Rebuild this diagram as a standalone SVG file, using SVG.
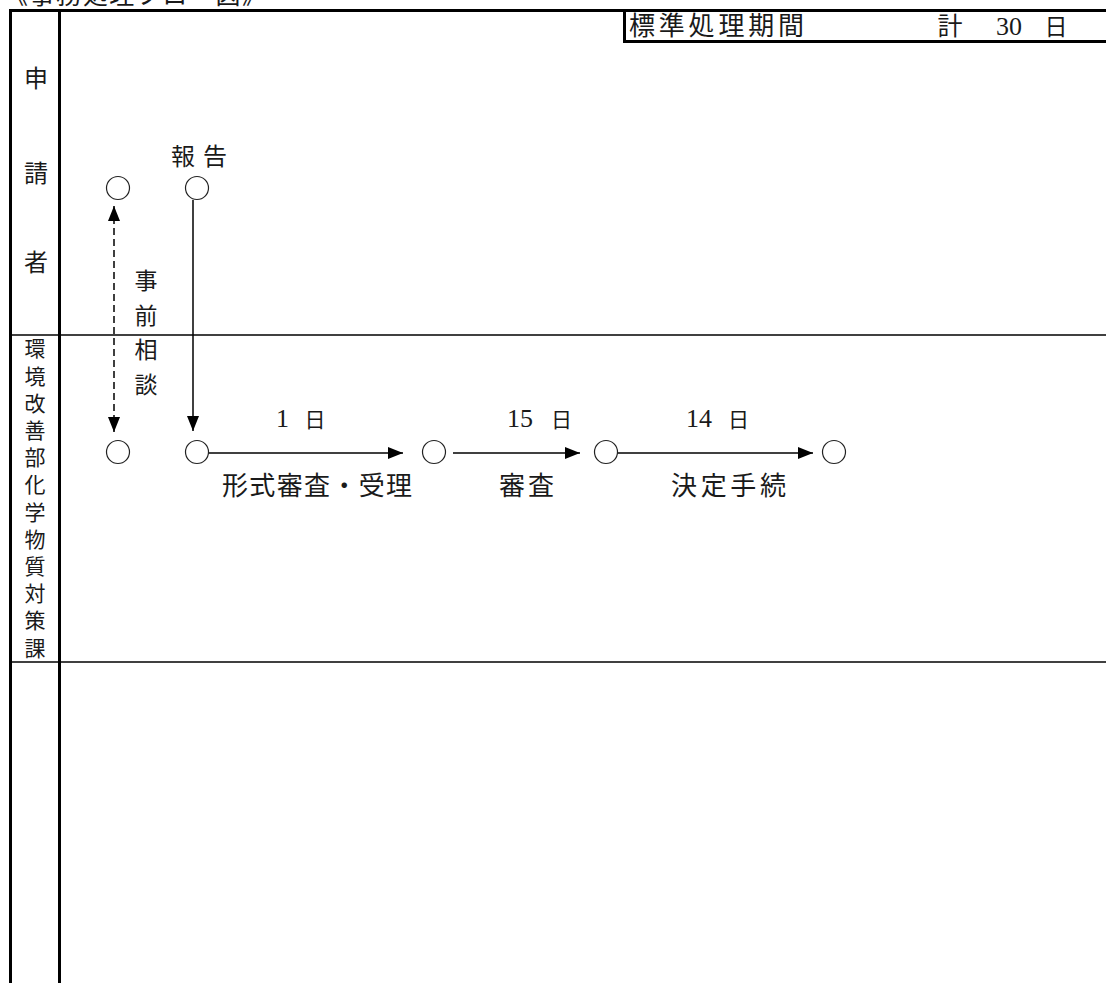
<svg xmlns="http://www.w3.org/2000/svg" width="1106" height="983" viewBox="0 0 1106 983">
<style>
text{font-family:"Liberation Serif","Noto Sans CJK JP",serif;fill:#1a1a1a}
.j{font-family:"Noto Sans CJK JP",sans-serif}
.v{writing-mode:vertical-rl;font-family:"Noto Sans CJK JP",sans-serif}
.thick{stroke:#000;stroke-width:3;fill:none}
.thin{stroke:#000;stroke-width:1.3;fill:none}
.node{fill:#fff;stroke:#222;stroke-width:1.2}
.con{stroke:#000;stroke-width:1.5;fill:none}
.dash{stroke-dasharray:7 4}
</style>
<defs>
<marker id="ah" viewBox="0 0 15 12" refX="15" refY="6" markerWidth="15" markerHeight="12" markerUnits="userSpaceOnUse" orient="auto">
<path d="M0,0 L15,6 L0,12 Z" fill="#000"/>
</marker>
<marker id="ahs" viewBox="0 0 15 12" refX="15" refY="6" markerWidth="15" markerHeight="12" markerUnits="userSpaceOnUse" orient="auto-start-reverse">
<path d="M0,0 L15,6 L0,12 Z" fill="#000"/>
</marker>
</defs>
<rect width="1106" height="983" fill="#fff"/>
<text class="j" x="3" y="4" font-size="25" textLength="264" lengthAdjust="spacing">《事務処理フロー図》</text>
<g id="frame">
<line class="thick" x1="10.5" y1="10.5" x2="1106" y2="10.5"/>
<line class="thick" x1="10.5" y1="9" x2="10.5" y2="983"/>
<line class="thick" x1="59.5" y1="9" x2="59.5" y2="983"/>
<line class="thin" x1="10" y1="335" x2="1106" y2="335"/>
<line class="thin" x1="10" y1="662" x2="1106" y2="662"/>
</g>
<g id="header">
<line class="thick" x1="624.5" y1="10" x2="624.5" y2="43"/>
<line class="thick" x1="623" y1="41.5" x2="1106" y2="41.5"/>
<text class="j" x="629" y="35" font-size="26" textLength="175" lengthAdjust="spacing">標準処理期間</text>
<text class="j" x="950" y="35" font-size="25" text-anchor="middle">計</text>
<text x="996" y="35" font-size="26">30</text>
<text class="j" x="1056" y="35" font-size="23" text-anchor="middle">日</text>
</g>
<g id="lane-applicant">
<text class="j" x="36" y="87" font-size="24" text-anchor="middle">申</text>
<text class="j" x="36" y="182" font-size="24" text-anchor="middle">請</text>
<text class="j" x="36" y="271" font-size="24" text-anchor="middle">者</text>
</g>
<g id="lane-dept">
<text class="v" x="35" y="338" font-size="21" letter-spacing="6.2">環境改善部化学物質対策課</text>
</g>
<g id="connectors">
<line class="con dash" x1="114" y1="206" x2="114" y2="432" marker-start="url(#ahs)" marker-end="url(#ah)"/>
<line class="con" x1="193" y1="200" x2="193" y2="431" marker-end="url(#ah)"/>
<line class="con" x1="208.5" y1="453" x2="403" y2="453" marker-end="url(#ah)"/>
<line class="con" x1="453" y1="453" x2="580" y2="453" marker-end="url(#ah)"/>
<line class="con" x1="617.5" y1="453" x2="813" y2="453" marker-end="url(#ah)"/>
</g>
<g id="n-a1"><circle class="node" cx="118" cy="188" r="11.5"/></g>
<g id="n-a2"><circle class="node" cx="197" cy="188" r="11.5"/>
<text class="j" x="171" y="165" font-size="24" textLength="56" lengthAdjust="spacing">報告</text></g>
<g id="lbl-consult">
<text class="v" x="146" y="269" font-size="23" letter-spacing="11.5">事前相談</text>
</g>
<g id="n-b1"><circle class="node" cx="118" cy="452" r="11.5"/></g>
<g id="n-b2"><circle class="node" cx="197" cy="452" r="11.5"/></g>
<g id="n-b3"><circle class="node" cx="434" cy="452" r="11.5"/></g>
<g id="n-b4"><circle class="node" cx="606" cy="452" r="11.5"/></g>
<g id="n-b5"><circle class="node" cx="834" cy="452" r="11.5"/></g>
<g id="labels">
<text x="276" y="427" font-size="26">1</text>
<text class="j" x="315" y="427" font-size="21" text-anchor="middle">日</text>
<text x="507" y="427" font-size="26">15</text>
<text class="j" x="561.5" y="427" font-size="21" text-anchor="middle">日</text>
<text x="686" y="427" font-size="26">14</text>
<text class="j" x="738.5" y="427" font-size="21" text-anchor="middle">日</text>
<text class="j" x="222" y="495" font-size="26" textLength="190" lengthAdjust="spacing">形式審査・受理</text>
<text class="j" x="499" y="495" font-size="26" textLength="55" lengthAdjust="spacing">審査</text>
<text class="j" x="671" y="495" font-size="26" textLength="115" lengthAdjust="spacing">決定手続</text>
</g>
</svg>
